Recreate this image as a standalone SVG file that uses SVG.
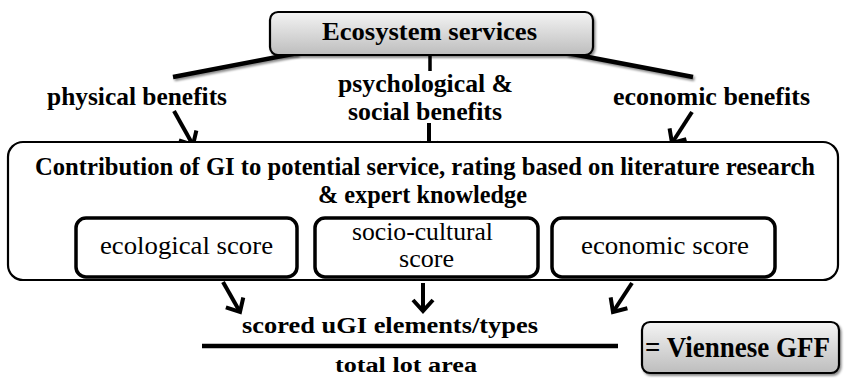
<svg xmlns="http://www.w3.org/2000/svg" width="845" height="378" viewBox="0 0 845 378">
<style>
text{font-family:"Liberation Serif","Times New Roman",Times,Tinos,"Nimbus Roman","FreeSerif","DejaVu Serif","Noto Serif",serif;fill:#000}
.b{font-weight:bold}
.gbox{fill:url(#gray);stroke:#000;stroke-width:2.2}
.frame{fill:#fff;stroke:#000;stroke-width:2.2}
.inner{fill:#fff;stroke:#000;stroke-width:3.5}
.thick{stroke:#000;stroke-width:4.5;stroke-linecap:butt;fill:none}
.arr{stroke:#000;stroke-width:4;fill:none;marker-end:url(#ah)}
</style>
<defs>
<linearGradient id="gray" x1="0" y1="0" x2="0" y2="1">
<stop offset="0" stop-color="#f4f4f4"/>
<stop offset="1" stop-color="#bdbdbd"/>
</linearGradient>
<filter id="sh" x="-10%" y="-30%" width="130%" height="170%">
<feDropShadow dx="1.5" dy="2" stdDeviation="1.2" flood-color="#000" flood-opacity="0.45"/>
</filter>
<marker id="ah" markerUnits="userSpaceOnUse" markerWidth="30" markerHeight="30" refX="0" refY="0" orient="auto" overflow="visible">
<path d="M -11 -10 L 0 0 L -11 10" fill="none" stroke="#000" stroke-width="4" stroke-linejoin="miter"/>
</marker>
</defs>
<rect width="845" height="378" fill="#fff"/>

<g id="connectors">
<line class="thick" x1="298" y1="53" x2="173" y2="77" filter="url(#sh)"/>
<line class="thick" x1="567" y1="53" x2="693" y2="77" filter="url(#sh)"/>
<line class="thick" x1="430" y1="55" x2="430" y2="71" style="stroke-width:3.5"/>
<line class="arr" x1="174" y1="111" x2="193" y2="145"/>
<line class="arr" x1="429" y1="123" x2="429" y2="153"/>
<line class="arr" x1="692" y1="112" x2="672" y2="143"/>
<line class="arr" x1="223" y1="282" x2="240" y2="312"/>
<line class="arr" x1="423" y1="283" x2="423" y2="311"/>
<line class="arr" x1="632" y1="283" x2="613" y2="312"/>
<line class="thick" x1="202" y1="346" x2="618" y2="346"/>
</g>

<g id="ecosystem-services">
<rect class="gbox" x="270" y="12" width="323" height="43" rx="8" filter="url(#sh)"/>
<text class="b" x="322" y="40" font-size="25" textLength="215" lengthAdjust="spacingAndGlyphs">Ecosystem services</text>
</g>

<g id="physical-benefits">
<text class="b" x="47" y="105" font-size="26" textLength="180" lengthAdjust="spacingAndGlyphs">physical benefits</text>
</g>

<g id="psychological-social-benefits">
<text class="b" x="338" y="92" font-size="26" textLength="175" lengthAdjust="spacingAndGlyphs">psychological &amp;</text>
<text class="b" x="348" y="120" font-size="26" textLength="154" lengthAdjust="spacingAndGlyphs">social benefits</text>
</g>

<g id="economic-benefits">
<text class="b" x="613" y="105" font-size="26" textLength="197" lengthAdjust="spacingAndGlyphs">economic benefits</text>
</g>

<g id="contribution">
<rect class="frame" x="8" y="142" width="830" height="138" rx="15"/>
<text class="b" x="35" y="175" font-size="25" textLength="780" lengthAdjust="spacingAndGlyphs">Contribution of GI to potential service, rating based on literature research</text>
<text class="b" x="318" y="203" font-size="25" textLength="209" lengthAdjust="spacingAndGlyphs">&amp; expert knowledge</text>
</g>

<g id="ecological-score">
<rect class="inner" x="76" y="218" width="221" height="59" rx="10"/>
<text x="100" y="254" font-size="25" textLength="173" lengthAdjust="spacingAndGlyphs">ecological score</text>
</g>

<g id="socio-cultural-score">
<rect class="inner" x="315" y="218" width="223" height="59" rx="10"/>
<text x="352" y="240" font-size="25" textLength="141" lengthAdjust="spacingAndGlyphs">socio-cultural</text>
<text x="399" y="267" font-size="25" textLength="55" lengthAdjust="spacingAndGlyphs">score</text>
</g>

<g id="economic-score">
<rect class="inner" x="552" y="218" width="223" height="59" rx="10"/>
<text x="581" y="254" font-size="25" textLength="168" lengthAdjust="spacingAndGlyphs">economic score</text>
</g>

<g id="scored-elements">
<text class="b" x="242" y="333" font-size="23" textLength="296" lengthAdjust="spacingAndGlyphs">scored uGI elements/types</text>
</g>

<g id="total-lot-area">
<text class="b" x="335" y="372" font-size="20" textLength="142" lengthAdjust="spacingAndGlyphs">total lot area</text>
</g>

<g id="viennese-gff">
<rect class="gbox" x="642" y="322" width="197" height="51" rx="8" filter="url(#sh)"/>
<text class="b" x="645" y="357" font-size="29" textLength="185" lengthAdjust="spacingAndGlyphs">= Viennese GFF</text>
</g>
</svg>
